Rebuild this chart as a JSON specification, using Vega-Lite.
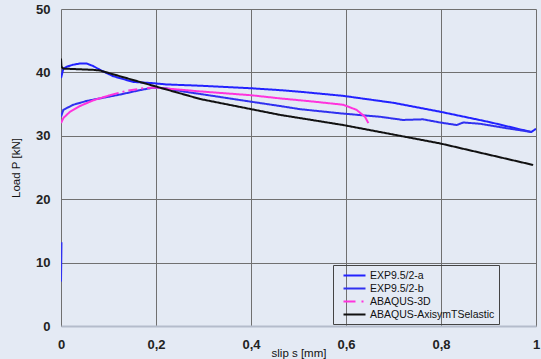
{
  "$schema": "https://vega.github.io/schema/vega-lite/v6.json",
  "width": 475,
  "height": 317,
  "autosize": {"type": "none"},
  "padding": {"left": 61, "top": 9, "right": 5, "bottom": 33},
  "background": "#e4eaf4",
  "config": {
    "font": "Liberation Sans",
    "view": {"stroke": null},
    "axis": {"gridColor": "#707070", "gridWidth": 1, "gridOpacity": 1, "ticks": false, "domain": false, "labelFont": "Liberation Sans", "labelFontWeight": "bold", "labelFontSize": 13, "labelColor": "#222", "titleFont": "Liberation Sans", "titleFontWeight": "normal", "titleFontSize": 11.5, "titleColor": "#111"}
  },
  "data": {
    "values": [
      {"s": "EXP9.5/2-a", "g": "a", "d": "solid", "x": 0.0, "y": 39.1},
      {"s": "EXP9.5/2-a", "g": "a", "d": "solid", "x": 0.005, "y": 40.6},
      {"s": "EXP9.5/2-a", "g": "a", "d": "solid", "x": 0.012, "y": 40.9},
      {"s": "EXP9.5/2-a", "g": "a", "d": "solid", "x": 0.025, "y": 41.2},
      {"s": "EXP9.5/2-a", "g": "a", "d": "solid", "x": 0.04, "y": 41.4},
      {"s": "EXP9.5/2-a", "g": "a", "d": "solid", "x": 0.054, "y": 41.4},
      {"s": "EXP9.5/2-a", "g": "a", "d": "solid", "x": 0.068, "y": 41.0},
      {"s": "EXP9.5/2-a", "g": "a", "d": "solid", "x": 0.082, "y": 40.4},
      {"s": "EXP9.5/2-a", "g": "a", "d": "solid", "x": 0.11, "y": 39.4},
      {"s": "EXP9.5/2-a", "g": "a", "d": "solid", "x": 0.152, "y": 38.5},
      {"s": "EXP9.5/2-a", "g": "a", "d": "solid", "x": 0.194, "y": 38.3},
      {"s": "EXP9.5/2-a", "g": "a", "d": "solid", "x": 0.222, "y": 38.1},
      {"s": "EXP9.5/2-a", "g": "a", "d": "solid", "x": 0.293, "y": 37.9},
      {"s": "EXP9.5/2-a", "g": "a", "d": "solid", "x": 0.4, "y": 37.5},
      {"s": "EXP9.5/2-a", "g": "a", "d": "solid", "x": 0.461, "y": 37.2},
      {"s": "EXP9.5/2-a", "g": "a", "d": "solid", "x": 0.503, "y": 36.95},
      {"s": "EXP9.5/2-a", "g": "a", "d": "solid", "x": 0.594, "y": 36.3},
      {"s": "EXP9.5/2-a", "g": "a", "d": "solid", "x": 0.7, "y": 35.2},
      {"s": "EXP9.5/2-a", "g": "a", "d": "solid", "x": 0.798, "y": 33.8},
      {"s": "EXP9.5/2-a", "g": "a", "d": "solid", "x": 0.9, "y": 32.2},
      {"s": "EXP9.5/2-a", "g": "a", "d": "solid", "x": 0.99, "y": 30.6},
      {"s": "EXP9.5/2-a", "g": "a", "d": "solid", "x": 1.0, "y": 31.1},
      {"s": "EXP9.5/2-b", "g": "b0", "d": "solid", "x": 0.0, "y": 7.0},
      {"s": "EXP9.5/2-b", "g": "b0", "d": "solid", "x": 0.001, "y": 13.2},
      {"s": "EXP9.5/2-b", "g": "b", "d": "solid", "x": 0.0, "y": 33.0},
      {"s": "EXP9.5/2-b", "g": "b", "d": "solid", "x": 0.005, "y": 34.1},
      {"s": "EXP9.5/2-b", "g": "b", "d": "solid", "x": 0.026, "y": 34.9},
      {"s": "EXP9.5/2-b", "g": "b", "d": "solid", "x": 0.054, "y": 35.5},
      {"s": "EXP9.5/2-b", "g": "b", "d": "solid", "x": 0.082, "y": 35.9},
      {"s": "EXP9.5/2-b", "g": "b", "d": "solid", "x": 0.124, "y": 36.5},
      {"s": "EXP9.5/2-b", "g": "b", "d": "solid", "x": 0.166, "y": 37.2},
      {"s": "EXP9.5/2-b", "g": "b", "d": "solid", "x": 0.194, "y": 37.6},
      {"s": "EXP9.5/2-b", "g": "b", "d": "solid", "x": 0.22, "y": 37.5},
      {"s": "EXP9.5/2-b", "g": "b", "d": "solid", "x": 0.257, "y": 37.0},
      {"s": "EXP9.5/2-b", "g": "b", "d": "solid", "x": 0.328, "y": 36.2},
      {"s": "EXP9.5/2-b", "g": "b", "d": "solid", "x": 0.398, "y": 35.4},
      {"s": "EXP9.5/2-b", "g": "b", "d": "solid", "x": 0.461, "y": 34.7},
      {"s": "EXP9.5/2-b", "g": "b", "d": "solid", "x": 0.503, "y": 34.2},
      {"s": "EXP9.5/2-b", "g": "b", "d": "solid", "x": 0.594, "y": 33.5},
      {"s": "EXP9.5/2-b", "g": "b", "d": "solid", "x": 0.672, "y": 33.0},
      {"s": "EXP9.5/2-b", "g": "b", "d": "solid", "x": 0.72, "y": 32.5},
      {"s": "EXP9.5/2-b", "g": "b", "d": "solid", "x": 0.762, "y": 32.6},
      {"s": "EXP9.5/2-b", "g": "b", "d": "solid", "x": 0.798, "y": 32.1},
      {"s": "EXP9.5/2-b", "g": "b", "d": "solid", "x": 0.833, "y": 31.7},
      {"s": "EXP9.5/2-b", "g": "b", "d": "solid", "x": 0.847, "y": 32.1},
      {"s": "EXP9.5/2-b", "g": "b", "d": "solid", "x": 0.882, "y": 31.9},
      {"s": "EXP9.5/2-b", "g": "b", "d": "solid", "x": 0.938, "y": 31.2},
      {"s": "EXP9.5/2-b", "g": "b", "d": "solid", "x": 0.991, "y": 30.6},
      {"s": "ABAQUS-3D", "g": "m1", "d": "solid", "x": 0.0, "y": 32.0},
      {"s": "ABAQUS-3D", "g": "m1", "d": "solid", "x": 0.005, "y": 32.8},
      {"s": "ABAQUS-3D", "g": "m1", "d": "solid", "x": 0.019, "y": 33.8},
      {"s": "ABAQUS-3D", "g": "m1", "d": "solid", "x": 0.04, "y": 34.7},
      {"s": "ABAQUS-3D", "g": "m1", "d": "solid", "x": 0.068, "y": 35.6},
      {"s": "ABAQUS-3D", "g": "m1", "d": "solid", "x": 0.103, "y": 36.4},
      {"s": "ABAQUS-3D", "g": "m2", "d": "dash", "x": 0.103, "y": 36.4},
      {"s": "ABAQUS-3D", "g": "m2", "d": "dash", "x": 0.138, "y": 37.1},
      {"s": "ABAQUS-3D", "g": "m2", "d": "dash", "x": 0.173, "y": 37.5},
      {"s": "ABAQUS-3D", "g": "m2", "d": "dash", "x": 0.2, "y": 37.6},
      {"s": "ABAQUS-3D", "g": "m3", "d": "solid", "x": 0.2, "y": 37.6},
      {"s": "ABAQUS-3D", "g": "m3", "d": "solid", "x": 0.293, "y": 37.0},
      {"s": "ABAQUS-3D", "g": "m3", "d": "solid", "x": 0.4, "y": 36.4},
      {"s": "ABAQUS-3D", "g": "m3", "d": "solid", "x": 0.461, "y": 35.9},
      {"s": "ABAQUS-3D", "g": "m3", "d": "solid", "x": 0.531, "y": 35.4},
      {"s": "ABAQUS-3D", "g": "m3", "d": "solid", "x": 0.594, "y": 34.9},
      {"s": "ABAQUS-3D", "g": "m3", "d": "solid", "x": 0.622, "y": 34.1},
      {"s": "ABAQUS-3D", "g": "m3", "d": "solid", "x": 0.64, "y": 33.0},
      {"s": "ABAQUS-3D", "g": "m3", "d": "solid", "x": 0.647, "y": 32.0},
      {"s": "ABAQUS-AxisymTSelastic", "g": "k", "d": "solid", "x": 0.0, "y": 42.2},
      {"s": "ABAQUS-AxisymTSelastic", "g": "k", "d": "solid", "x": 0.001, "y": 40.9},
      {"s": "ABAQUS-AxisymTSelastic", "g": "k", "d": "solid", "x": 0.005, "y": 40.6},
      {"s": "ABAQUS-AxisymTSelastic", "g": "k", "d": "solid", "x": 0.068, "y": 40.4},
      {"s": "ABAQUS-AxisymTSelastic", "g": "k", "d": "solid", "x": 0.082, "y": 40.3},
      {"s": "ABAQUS-AxisymTSelastic", "g": "k", "d": "solid", "x": 0.152, "y": 38.8},
      {"s": "ABAQUS-AxisymTSelastic", "g": "k", "d": "solid", "x": 0.194, "y": 37.9},
      {"s": "ABAQUS-AxisymTSelastic", "g": "k", "d": "solid", "x": 0.293, "y": 35.8},
      {"s": "ABAQUS-AxisymTSelastic", "g": "k", "d": "solid", "x": 0.461, "y": 33.3},
      {"s": "ABAQUS-AxisymTSelastic", "g": "k", "d": "solid", "x": 0.594, "y": 31.7},
      {"s": "ABAQUS-AxisymTSelastic", "g": "k", "d": "solid", "x": 0.798, "y": 28.8},
      {"s": "ABAQUS-AxisymTSelastic", "g": "k", "d": "solid", "x": 0.994, "y": 25.4}
    ]
  },
  "mark": {"type": "line", "strokeWidth": 2, "clip": true},
  "encoding": {
    "x": {"field": "x", "type": "quantitative", "scale": {"domain": [0, 1], "nice": false, "zero": false},
      "axis": {"values": [0, 0.2, 0.4, 0.6, 0.8, 1], "labelPadding": 12, "labelExpr": "datum.value == 0 ? '0' : datum.value == 1 ? '1' : replace(format(datum.value, '.1f'), '.', ',')", "title": "slip s [mm]", "titleY": 21, "titleBaseline": "top", "labelFlush": false, "domain": true, "domainColor": "#b4bccb", "domainWidth": 2}},
    "y": {"field": "y", "type": "quantitative", "scale": {"domain": [0, 50], "nice": false},
      "axis": {"values": [0, 10, 20, 30, 40, 50], "labelPadding": 11, "title": "Load P [kN]", "titlePadding": 14}},
    "color": {"field": "s", "type": "nominal",
      "scale": {"domain": ["EXP9.5/2-a", "EXP9.5/2-b", "ABAQUS-3D", "ABAQUS-AxisymTSelastic"], "range": ["#2222ff", "#3030f0", "#ff33dd", "#111111"]},
      "legend": {"title": null, "orient": "none", "legendX": 272, "legendY": 256, "symbolType": "M-2,0H2", "symbolStrokeWidth": 2, "symbolSize": 121, "symbolFillColor": "transparent", "labelFontSize": 10.5, "labelFont": "Liberation Sans", "labelColor": "#111", "strokeColor": "#444", "padding": 4, "rowPadding": 1, "labelOffset": 9, "cornerRadius": 0, "symbolOffset": 11,
        "encode": {"symbols": {"update": {"strokeDash": {"signal": "datum.value === 'ABAQUS-3D' ? [12, 6, 2, 10] : [1, 0]"}}}}}},
    "strokeDash": {"field": "d", "type": "nominal", "scale": {"domain": ["solid", "dash"], "range": [[1, 0], [9, 4, 2, 4]]}, "legend": null},
    "detail": {"field": "g"}
  }
}
